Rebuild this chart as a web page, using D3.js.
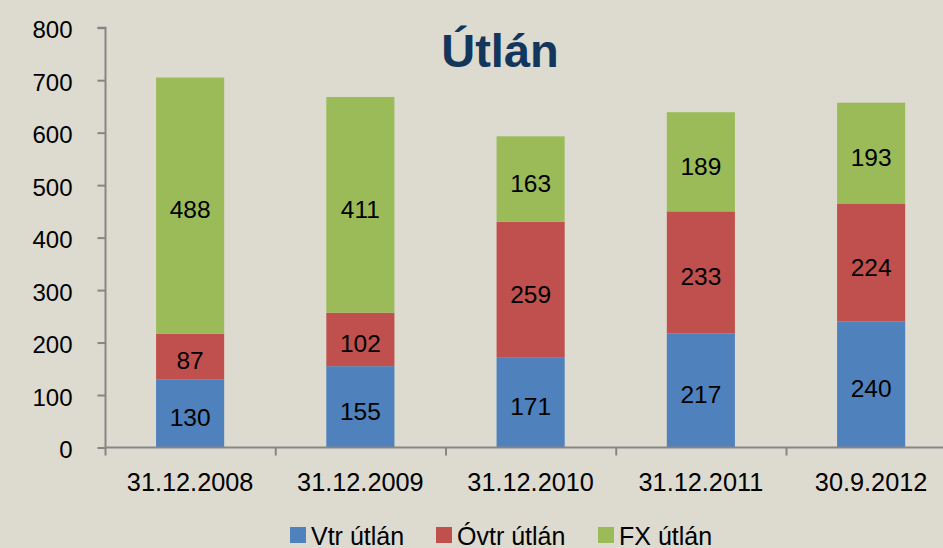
<!DOCTYPE html>
<html><head><meta charset="utf-8">
<script src="https://cdn.jsdelivr.net/npm/d3@7/dist/d3.min.js"></script>
<style>html,body{margin:0;padding:0;background:#dddacf;overflow:hidden}svg{display:block}</style>
</head><body>
<script>
const categories = ["31.12.2008","31.12.2009","31.12.2010","31.12.2011","30.9.2012"];
const seriesNames = ["Vtr útlán","Óvtr útlán","FX útlán"];
const vtr = [130,155,171,217,240];
const ovtr = [87,102,259,233,224];
const fx = [488,411,163,189,193];
const yTicks = [0,100,200,300,400,500,600,700,800];
const colors = ["#4f81bd","#c0504d","#9bbb59"];
const title = "Útlán";

const W = 943, H = 548;
const svg = d3.select("body").append("svg").attr("width",W).attr("height",H);
svg.append("rect").attr("width",W).attr("height",H).attr("fill","#dddacf");

const font = "'Liberation Sans', Arial, sans-serif";
const x = d3.scaleBand().domain(categories).range([105, 956.25]).paddingInner(0.6).paddingOuter(0.3);
const y = d3.scaleLinear().domain([0,800]).range([447.5, 27.7]);

const rows = categories.map((c,i)=>({cat:c, Vtr:vtr[i], Ovtr:ovtr[i], FX:fx[i]}));
const stack = d3.stack().keys(["Vtr","Ovtr","FX"])(rows);

const g = svg.append("g");
stack.forEach((s,si)=>{
  g.selectAll(null).data(s).enter().append("rect")
    .attr("x",d=>x(d.data.cat))
    .attr("width",x.bandwidth())
    .attr("y",d=>y(d[1]))
    .attr("height",d=>y(d[0])-y(d[1]))
    .attr("fill",colors[si]);
  g.selectAll(null).data(s).enter().append("text")
    .attr("x",d=>x(d.data.cat)+x.bandwidth()/2)
    .attr("y",d=>(y(d[0])+y(d[1]))/2)
    .attr("dy","0.52em")
    .attr("text-anchor","middle")
    .attr("font-family",font).attr("font-size",24.5).attr("fill","#000")
    .text(d=>d[1]-d[0]);
});

// y axis
const yAxis = d3.axisLeft(y).tickValues(yTicks).tickSize(8).tickPadding(25);
const ya = svg.append("g").attr("transform","translate(105.5,0)").call(yAxis);
ya.selectAll("path,line").attr("stroke","#868686").attr("stroke-width",2);
ya.select(".domain").attr("d",`M-8,${y(800)}H0V${y(0)}`);
ya.selectAll("text").attr("font-family",font).attr("font-size",24).attr("fill","#000").attr("dy","0.42em");

// x axis
const step = x.step();
const xa = svg.append("g").attr("transform",`translate(0,${y(0)})`);
xa.append("line").attr("x1",105.5).attr("x2",W).attr("y1",0).attr("y2",0).attr("stroke","#868686").attr("stroke-width",2);
xa.selectAll(null).data(d3.range(categories.length+1)).enter().append("line")
  .attr("x1",i=>105.5+i*step).attr("x2",i=>105.5+i*step).attr("y1",0).attr("y2",8)
  .attr("stroke","#868686").attr("stroke-width",2);
xa.selectAll(null).data(categories).enter().append("text")
  .attr("x",d=>x(d)+x.bandwidth()/2).attr("y",43.3)
  .attr("text-anchor","middle").attr("font-family",font).attr("font-size",25.3).attr("fill","#000")
  .text(d=>d);

// title
svg.append("text").attr("x",500).attr("y",67).attr("text-anchor","middle")
  .attr("font-family",font).attr("font-weight","bold").attr("font-size",47).attr("fill","#12365c")
  .text(title);

// legend
const legX = [290, 436, 598];
const lg = svg.append("g");
seriesNames.forEach((n,i)=>{
  lg.append("rect").attr("x",legX[i]).attr("y",527).attr("width",16).attr("height",16).attr("fill",colors[i]);
  lg.append("text").attr("x",legX[i]+21).attr("y",544.5).attr("font-family",font).attr("font-size",25).attr("fill","#000").text(n);
});
</script>
</body></html>
